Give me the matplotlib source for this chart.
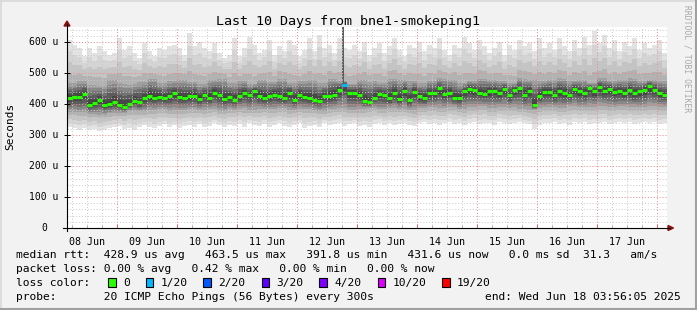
"""SmokePing style 10-day latency graph (median rtt + smoke) for bne1-smokeping1."""
import datetime as dt

import numpy as np
import matplotlib
matplotlib.use("Agg")
import matplotlib.pyplot as plt
import matplotlib.dates as mdates
from matplotlib.lines import Line2D
from matplotlib.patches import Polygon, Rectangle
from matplotlib.ticker import MultipleLocator, NullFormatter

W, H = 697, 310
MONO = "DejaVu Sans Mono"

# ---- data (2 hour bins, 10 days) ----
START = dt.datetime(2025, 6, 8, 3, 56, 5)
END = dt.datetime(2025, 6, 18, 3, 56, 5)
BIN_HOURS = 2

# median rtt per bin (us)
median_us = [
    421, 423, 425, 432, 398, 404, 413, 398, 400, 408, 398, 391.8,
    400, 411, 406, 419, 427, 422, 425, 419, 427, 436, 425, 422,
    426, 428, 418, 431, 422, 437, 429, 418, 424, 415, 426, 437,
    429, 444, 428, 422, 426, 431, 426, 421, 437, 415, 431, 424,
    420, 415, 412, 426, 426, 431, 447, 463.5, 437, 437, 431, 412,
    406, 422, 433, 429, 421, 437, 418, 443, 414, 439, 426, 421,
    437, 437, 452, 434, 437, 422, 421, 442, 450, 446, 438, 434,
    442, 444, 437, 449, 431, 446, 452, 431, 444, 397, 428, 440,
    439, 429, 442, 437, 429, 450, 442, 437, 452, 442, 455, 442,
    450, 439, 442, 437, 445, 435, 442, 447, 458, 446, 437, 431.6,
]
# lost pings (of 20) per bin
loss_cnt = [0] * 55 + [1] + [0] * 64

# slowest ping per bin (us)
ping_max = [
    609, 593, 582, 555, 582, 566, 588, 571, 560, 566, 614, 577,
    588, 566, 550, 598, 571, 555, 582, 577, 588, 593, 582, 560,
    630, 588, 603, 582, 571, 598, 566, 550, 560, 614, 555, 582,
    619, 593, 566, 577, 609, 560, 588, 571, 609, 593, 555, 577,
    614, 571, 625, 582, 593, 566, 614, 582, 577, 593, 571, 603,
    560, 582, 598, 566, 588, 614, 577, 555, 593, 582, 603, 571,
    593, 582, 614, 577, 560, 593, 582, 619, 598, 577, 609, 588,
    566, 582, 603, 560, 593, 577, 609, 588, 598, 571, 614, 582,
    598, 577, 614, 588, 571, 609, 582, 619, 593, 636, 598, 625,
    582, 609, 571, 603, 588, 614, 577, 598, 582, 593, 609, 566,
]
# fastest ping per bin (us)
ping_min = [
    328, 322, 318, 325, 316, 320, 314, 318, 322, 326, 330, 320,
    324, 318, 326, 332, 328, 322, 330, 335, 328, 332, 325, 330,
    332, 328, 335, 326, 330, 338, 332, 326, 334, 330, 336, 328,
    340, 334, 330, 336, 328, 332, 338, 330, 326, 334, 338, 322,
    330, 334, 326, 338, 332, 336, 340, 330, 335, 338, 330, 334,
    328, 336, 340, 334, 338, 332, 336, 340, 334, 330, 338, 342,
    336, 340, 334, 338, 342, 336, 340, 334, 338, 344, 336, 340,
    338, 334, 342, 338, 336, 340, 344, 338, 336, 320, 334, 340,
    338, 342, 336, 340, 334, 342, 338, 344, 336, 340, 338, 342,
    336, 340, 344, 338, 342, 336, 340, 344, 338, 342, 336, 340,
]
# ~80th / ~20th percentile ping per 4 hour bin (us)
ping_upper = [
    470, 476, 466, 462, 480, 470, 466, 475, 484, 470, 476, 480,
    475, 466, 480, 485, 470, 476, 466, 480, 475, 485, 470, 476,
    480, 470, 485, 476, 468, 480, 476, 470, 485, 480, 476, 470,
    476, 485, 480, 470, 476, 485, 480, 476, 470, 485, 480, 476,
    480, 485, 476, 480, 470, 485, 476, 480, 485, 476, 480, 476,
]
ping_lower = [
    375, 372, 368, 365, 370, 372, 378, 376, 380, 382, 378, 380,
    382, 380, 384, 378, 382, 385, 380, 384, 382, 386, 380, 384,
    382, 378, 384, 386, 380, 384, 388, 382, 386, 384, 380, 386,
    388, 386, 390, 384, 388, 392, 386, 390, 388, 384, 380, 388,
    390, 386, 392, 388, 390, 394, 388, 392, 390, 388, 392, 390,
]
# single outlier ping shooting off the top of the graph
spike_bin = 55
spike_us = 720

loss_labels = ["0", "1/20", "2/20", "3/20", "4/20", "10/20", "19/20"]
loss_colors = ["#26ff00", "#00b8ff", "#0059ff", "#5e00ff", "#7e00ff", "#dd00ff", "#ff0000"]
loss_steps = [0, 1, 2, 3, 4, 10, 19]

# grey level of a smoke layer by its distance (0 = outermost) from the median
SHADES = [226, 212, 196, 178, 158, 136, 114, 92, 72, 56]


def fx(x):
    return x / W


def fy(y):
    return 1 - y / H


def loss_color(n):
    c = loss_colors[0]
    for s, col in zip(loss_steps, loss_colors):
        if n >= s:
            c = col
    return c


fig = plt.figure(figsize=(W / 100, H / 100), dpi=100, facecolor="#f2f2f2")
ax = fig.add_axes([fx(67), fy(228), fx(600), (228 - 27) / H])
ax.set_facecolor("white")

n = len(median_us)
edges = mdates.date2num([START + dt.timedelta(hours=BIN_HOURS * k) for k in range(n + 1)])

# ---- smoke: 20 sorted pings per bin, shaded darker towards the median ----
upper = np.repeat(ping_upper, 2)
lower = np.repeat(ping_lower, 2)
anchor_f = [0, 0.2, 0.5, 0.8, 1.0]
frac = np.arange(20) / 19
pings = np.array([np.interp(frac, anchor_f, [ping_min[i], lower[i], median_us[i], upper[i], ping_max[i]])
                  for i in range(n)])
for j in range(19):
    g = SHADES[min(j, 18 - j)] / 255
    lo = np.append(pings[:, j], pings[-1, j])
    hi = np.append(pings[:, j + 1], pings[-1, j + 1])
    ax.fill_between(edges, lo, hi, step="post", color=(g, g, g), lw=0, antialiased=False, zorder=1)

# outlier spike
sx = edges[spike_bin] + 0.2 * (edges[1] - edges[0])
ax.vlines(sx, median_us[spike_bin], spike_us, color="#5a5a5a", lw=1.4, zorder=2)

# median, coloured by loss
ax.hlines(median_us, edges[:-1], edges[1:], colors=[loss_color(v) for v in loss_cnt], lw=2.3, zorder=4)

# ---- axes / grid ----
ax.set_xlim(edges[0], edges[-1])
ax.set_ylim(0, 650)
ax.yaxis.set_major_locator(MultipleLocator(100))
ax.yaxis.set_minor_locator(MultipleLocator(20))
ax.xaxis.set_major_locator(mdates.DayLocator())
ax.xaxis.set_minor_locator(mdates.HourLocator(byhour=[0, 6, 12, 18]))
ax.xaxis.set_major_formatter(NullFormatter())
ax.yaxis.set_major_formatter(NullFormatter())
ax.set_axisbelow(False)
ax.grid(which="minor", color="#c8c8c8", ls=(0, (1, 2)), lw=0.7, zorder=3)
ax.grid(which="major", color="#f08484", ls=(0, (1, 2)), lw=0.7, zorder=3)
ax.tick_params(axis="x", which="major", direction="in", length=3, color="#e06060", width=0.7)
ax.tick_params(axis="x", which="minor", direction="in", length=2, color="#b0b0b0", width=0.7)
ax.tick_params(axis="y", which="major", direction="inout", length=5, color="black", width=0.7)
ax.tick_params(axis="y", which="minor", length=0)
for s in ax.spines.values():
    s.set_visible(False)

# y tick labels
for v in range(0, 700, 100):
    lab = "0" if v == 0 else "%d u" % v
    xr = 47.5 if v == 0 else 58.8
    ax.text((xr - 67) / 600, v, lab, transform=ax.get_yaxis_transform(),
            ha="right", va="center", family=MONO, fontsize=7)

# date labels at noon
day = dt.datetime(2025, 6, 8, 12)
while day < END:
    ax.text(mdates.date2num(day), -0.045, day.strftime("%d %b"), transform=ax.get_xaxis_transform(),
            ha="center", va="top", family=MONO, fontsize=7.2)
    day += dt.timedelta(days=1)

# axis lines with arrows
fig.add_artist(Line2D([fx(63), fx(670)], [fy(228), fy(228)], color="black", lw=0.8))
fig.add_artist(Line2D([fx(67), fx(67)], [fy(231), fy(24)], color="black", lw=0.8))
fig.add_artist(Polygon([(fx(64), fy(26)), (fx(70), fy(26)), (fx(67), fy(21))], closed=True,
                       color="#8b1010", transform=fig.transFigure))
fig.add_artist(Polygon([(fx(668), fy(225.5)), (fx(668), fy(230.5)), (fx(673.5), fy(228))], closed=True,
                       color="#8b1010", transform=fig.transFigure))

# ---- texts ----
fig.text(fx(348), fy(25), "Last 10 Days from bne1-smokeping1", ha="center", va="baseline",
         family=MONO, fontsize=9.6)
fig.text(fx(10.5), fy(126), "Seconds", rotation=90, ha="center", va="center", family=MONO, fontsize=8)
fig.text(fx(687), fy(5), "RRDTOOL / TOBI OETIKER", rotation=270, ha="center", va="top",
         family=MONO, fontsize=5.8, color="#a8a8a8")

LS = 8.13
legend_rows = [
    (258.3, "median rtt:  428.9 us avg   463.5 us max   391.8 us min   431.6 us now   0.0 ms sd  31.3   am/s"),
    (272.3, "packet loss: 0.00 % avg   0.42 % max   0.00 % min   0.00 % now"),
    (286.3, "loss color:"),
    (300.0, "probe:       20 ICMP Echo Pings (56 Bytes) every 300s"),
]
for base, s in legend_rows:
    fig.text(fx(16), fy(base), s, ha="left", va="baseline", family=MONO, fontsize=LS)
fig.text(fx(680.5), fy(300), "end: Wed Jun 18 03:56:05 2025", ha="right", va="baseline",
         family=MONO, fontsize=LS)

box_x = [108.3, 145.7, 203.3, 261.7, 319.3, 377.7, 442.3]
lab_x = [123.3, 160.7, 218.3, 276.7, 334.3, 392.3, 456.7]
for bx, lx, lab, col in zip(box_x, lab_x, loss_labels, loss_colors):
    fig.add_artist(Rectangle((fx(bx), fy(286.5)), 7.5 / W, 9 / H, facecolor=col, edgecolor="black",
                             lw=0.8, transform=fig.transFigure))
    fig.text(fx(lx), fy(286.3), lab, ha="left", va="baseline", family=MONO, fontsize=LS)

# 3D frame
fig.add_artist(Line2D([0, 1], [fy(0.5), fy(0.5)], color="#d8d8d8", lw=1.2))
fig.add_artist(Line2D([fx(0.5), fx(0.5)], [0, 1], color="#d8d8d8", lw=1.2))
fig.add_artist(Line2D([0, 1], [fy(309), fy(309)], color="#a0a0a0", lw=1.5))
fig.add_artist(Line2D([fx(696), fx(696)], [0, 1], color="#a0a0a0", lw=1.5))

fig.savefig("out.png", dpi=100, facecolor=fig.get_facecolor())
plt.close(fig)
